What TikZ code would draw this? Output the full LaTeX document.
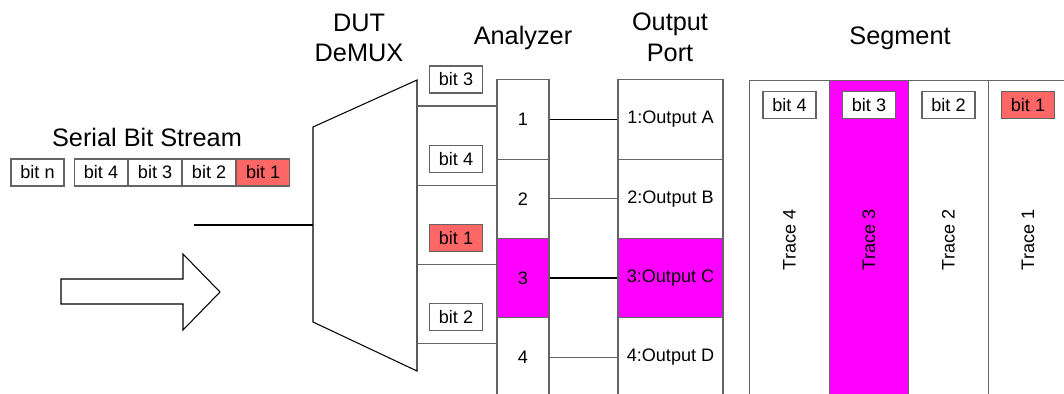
\documentclass[tikz,border=0pt]{standalone}
\usepackage{fontspec}
\setmainfont{Liberation Sans}
\usetikzlibrary{positioning, calc}
\definecolor{bitred}{RGB}{255,102,102}
\definecolor{hilite}{RGB}{255,0,255}
\definecolor{edgegray}{RGB}{100,100,100}

\begin{document}
\begin{tikzpicture}[
        x=0.02cm, y=-0.02cm,
        title/.style={font=\fontsize{14.4}{17.5}\selectfont, align=center},
        bitbox/.style={rectangle, draw=edgegray, fill=white, line width=0.6pt, minimum width=1.06cm, minimum height=0.54cm, inner sep=0pt, font=\fontsize{10.3}{12}\selectfont},
        redbit/.style={bitbox, fill=bitred},
        cell/.style={rectangle, draw=edgegray, fill=white, line width=0.6pt, minimum width=1.04cm, minimum height=1.59cm, inner sep=0pt, font=\fontsize{10.3}{12}\selectfont},
        portcell/.style={cell, minimum width=2.1cm},
        tracecol/.style={rectangle, draw=edgegray, fill=white, line width=0.6pt, minimum width=1.59cm, minimum height=6.4cm, inner sep=0pt},
        wire/.style={line width=0.6pt},
        graywire/.style={line width=0.6pt, edgegray},
    ]
    \useasboundingbox (0,0) rectangle (1064,393);

    % ===== Serial bit stream =====
    \node[title] (SBS) at (147,137) {Serial Bit Stream};
    \node[bitbox] (SN) at (37.5,172.5) {bit n};
    \node[bitbox] (S4) at (101,172.5) {bit 4};
    \node[bitbox, right=0pt of S4] (S3) {bit 3};
    \node[bitbox, right=0pt of S3] (S2) {bit 2};
    \node[redbit, right=0pt of S2] (S1) {bit 1};

    % hollow arrow
    \draw[line width=0.6pt] (61,279) -- (183,279) -- (183,254) -- (220,292)
        -- (183,330) -- (183,304) -- (61,304) -- cycle;

    % ===== DeMUX =====
    \node[title] (DUT) at (359,38) {DUT\\DeMUX};
    \coordinate (DMnw) at (313,127);
    \coordinate (DMsw) at (313,322);
    \coordinate (DMne) at (417,80);
    \coordinate (DMse) at (417,371);
    \draw[line width=0.6pt] (DMnw) -- (DMne) -- (DMse) -- (DMsw) -- cycle;

    \coordinate (IN) at (194,225);
    \draw[wire] (IN) -- (IN -| DMnw);

    % ===== Analyzer and output port =====
    \node[title] (ANA) at (523,38) {Analyzer};
    \node[title] (OUT) at (670,37) {Output\\Port};

    \foreach \i/\p/\b in {1/A/3, 2/B/4, 3/C/1, 4/D/2} {
        \node[cell] (A\i) at (523,{119.5+79.3*(\i-1)}) {\i};
        \node[portcell] (O\i) at (670.5,{119.5+79.3*(\i-1)}) {\i:Output \p};
        \coordinate (W\i) at ($(A\i.west)+(0,-13.5)$);
        \draw[graywire] (W\i -| DMne) -- (W\i);
        \node[bitbox] (D\i) at ($(W\i -| 456,0)+(0,-26.5)$) {bit \b};
    }
    % highlighted path
    \node[cell, fill=hilite] (A3) at (A3) {3};
    \node[portcell, fill=hilite] (O3) at (O3) {3:Output C};
    \node[redbit] (D3) at (D3) {bit 1};

    \draw[wire] (A1) -- (O1);
    \draw[graywire] (A2) -- (O2);
    \draw[line width=1.3pt] (A3) -- (O3);
    \draw[graywire] (A4) -- (O4);

    % ===== Segment =====
    \node[title] (SEG) at (900,38) {Segment};
    \foreach \k/\t in {0/4, 1/3, 2/2, 3/1} {
        \node[tracecol] (T\t) at ({789.5+79.5*\k},240) {};
        \node[rotate=90, font=\fontsize{10.3}{12}\selectfont] (TL\t) at (T\t) {Trace \t};
        \node[bitbox] (TB\t) at ($(T\t.north)+(0,25.5)$) {bit \t};
    }
    \node[tracecol, fill=hilite] (T3) at (T3) {};
    \node[rotate=90, font=\fontsize{10.3}{12}\selectfont] (TL3) at (T3) {Trace 3};
    \node[bitbox] (TB3) at ($(T3.north)+(0,25.5)$) {bit 3};
    \node[redbit] (TB1) at (TB1) {bit 1};

\end{tikzpicture}
\end{document}
